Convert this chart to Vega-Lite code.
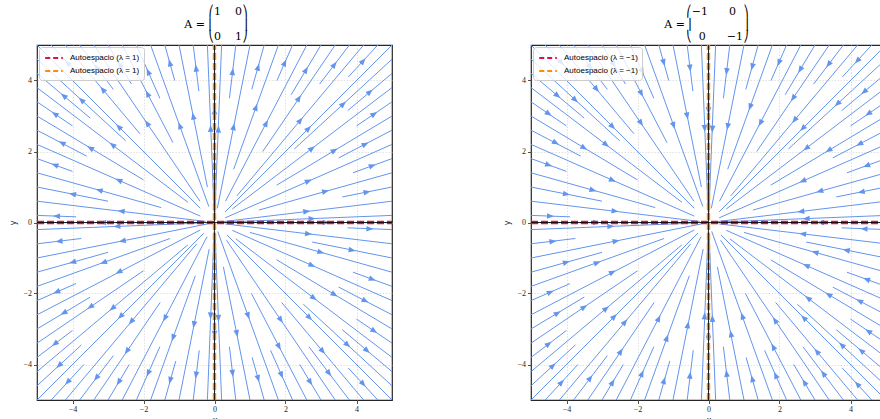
{
  "$schema": "https://vega.github.io/schema/vega-lite/v6.json",
  "padding": {"left": 9, "top": 5, "right": 0, "bottom": 0},
  "autosize": {"type": "pad"},
  "background": "white",
  "spacing": 139,
  "bounds": "flush",
  "resolve": {"scale": {"color": "independent", "angle": "independent"}, "legend": {"color": "independent"}},
  "config": {
    "view": {"stroke": "#262626", "strokeWidth": 1.2},
    "axis": {"grid": true, "gridColor": "#d4d4d4", "gridDash": [1.5, 1.5], "gridWidth": 0.7, "domain": false, "tickColor": "#262626", "tickSize": 3.5, "tickWidth": 0.8, "labelFont": "Liberation Serif", "labelFontSize": 8, "labelColor": "#262626", "labelPadding": 2, "titleFont": "DejaVu Sans", "titleFontSize": 8, "titleFontWeight": "normal", "titleColor": "#262626", "labelFlush": false},
    "axisY": {"titlePadding": 5},
    "axisX": {"titlePadding": 3},
    "legend": {"orient": "top-left", "offset": 2, "fillColor": "rgba(255,255,255,0.8)", "strokeColor": "#cccccc", "cornerRadius": 3, "padding": 4, "labelFont": "Liberation Sans", "labelFontSize": 8, "labelColor": "#000000", "symbolType": "M-1.6,0H1.6", "symbolSize": 121, "symbolOffset": 4, "labelOffset": 9, "symbolStrokeWidth": 2.2, "symbolDash": [5, 3], "rowPadding": 1},
    "title": {"font": "DejaVu Serif", "fontWeight": "normal", "color": "#000000", "fontSize": 11, "lineHeight": 12.5}
  },
  "datasets": {
    "lineas": [
      {"x":0.01,"y":0.25,"x2":0.2,"y2":5},{"x":0.42,"y":3.5,"x2":0.6,"y2":5},{"x":0.08,"y":0.4,"x2":1,"y2":5},{"x":1.05,"y":3.75,"x2":1.4,"y2":5},{"x":0.54,"y":1.5,"x2":1.8,"y2":5},{"x":1.76,"y":4,"x2":2.2,"y2":5},{"x":0.31,"y":0.6,"x2":2.6,"y2":5},{"x":2.16,"y":3.6,"x2":3,"y2":5},{"x":1.36,"y":2,"x2":3.4,"y2":5},{"x":2.96,"y":3.9,"x2":3.8,"y2":5},{"x":0.63,"y":0.75,"x2":4.2,"y2":5},{"x":3.77,"y":4.1,"x2":4.6,"y2":5},{"x":0.3,"y":0.3,"x2":5,"y2":5},
      {"x":0.5,"y":0.02,"x2":5,"y2":0.2},{"x":0.2,"y":0.02,"x2":5,"y2":0.6},{"x":3.6,"y":0.72,"x2":5,"y2":1},{"x":1.25,"y":0.35,"x2":5,"y2":1.4},{"x":3.9,"y":1.4,"x2":5,"y2":1.8},{"x":0.3,"y":0.13,"x2":5,"y2":2.2},{"x":3.5,"y":1.82,"x2":5,"y2":2.6},{"x":1.75,"y":1.05,"x2":5,"y2":3},{"x":4,"y":2.72,"x2":5,"y2":3.4},{"x":0.5,"y":0.38,"x2":5,"y2":3.8},{"x":3.75,"y":3.15,"x2":5,"y2":4.2},{"x":2.25,"y":2.07,"x2":5,"y2":4.6},
      {"x":-0.01,"y":0.3,"x2":-0.2,"y2":5},{"x":-0.44,"y":3.7,"x2":-0.6,"y2":5},{"x":-0.2,"y":1,"x2":-1,"y2":5},{"x":-1.12,"y":4,"x2":-1.4,"y2":5},{"x":-0.16,"y":0.45,"x2":-1.8,"y2":5},{"x":-1.54,"y":3.5,"x2":-2.2,"y2":5},{"x":-1.17,"y":2.25,"x2":-2.6,"y2":5},{"x":-2.34,"y":3.9,"x2":-3,"y2":5},{"x":-0.41,"y":0.6,"x2":-3.4,"y2":5},{"x":-2.85,"y":3.75,"x2":-3.8,"y2":5},{"x":-2.1,"y":2.5,"x2":-4.2,"y2":5},{"x":-3.68,"y":4,"x2":-4.6,"y2":5},{"x":-0.4,"y":0.4,"x2":-5,"y2":5},
      {"x":-3.9,"y":0.16,"x2":-5,"y2":0.2},{"x":-0.25,"y":0.03,"x2":-5,"y2":0.6},{"x":-3,"y":0.6,"x2":-5,"y2":1},{"x":-1.5,"y":0.42,"x2":-5,"y2":1.4},{"x":-4,"y":1.44,"x2":-5,"y2":1.8},{"x":-0.4,"y":0.18,"x2":-5,"y2":2.2},{"x":-3.6,"y":1.87,"x2":-5,"y2":2.6},{"x":-2,"y":1.2,"x2":-5,"y2":3},{"x":-4,"y":2.72,"x2":-5,"y2":3.4},{"x":-0.75,"y":0.57,"x2":-5,"y2":3.8},{"x":-3.5,"y":2.94,"x2":-5,"y2":4.2},{"x":-2.5,"y":2.3,"x2":-5,"y2":4.6},
      {"x":0.02,"y":-0.4,"x2":0.2,"y2":-5},{"x":0.42,"y":-3.5,"x2":0.6,"y2":-5},{"x":0.25,"y":-1.25,"x2":1,"y2":-5},{"x":1.06,"y":-3.8,"x2":1.4,"y2":-5},{"x":0.09,"y":-0.25,"x2":1.8,"y2":-5},{"x":1.58,"y":-3.6,"x2":2.2,"y2":-5},{"x":1.04,"y":-2,"x2":2.6,"y2":-5},{"x":2.4,"y":-4,"x2":3,"y2":-5},{"x":0.34,"y":-0.5,"x2":3.4,"y2":-5},{"x":2.66,"y":-3.5,"x2":3.8,"y2":-5},{"x":1.89,"y":-2.25,"x2":4.2,"y2":-5},{"x":3.77,"y":-4.1,"x2":4.6,"y2":-5},{"x":0.35,"y":-0.35,"x2":5,"y2":-5},
      {"x":3.75,"y":-0.15,"x2":5,"y2":-0.2},{"x":0.3,"y":-0.04,"x2":5,"y2":-0.6},{"x":2.75,"y":-0.55,"x2":5,"y2":-1},{"x":1,"y":-0.28,"x2":5,"y2":-1.4},{"x":3.9,"y":-1.4,"x2":5,"y2":-1.8},{"x":0.5,"y":-0.22,"x2":5,"y2":-2.2},{"x":3.5,"y":-1.82,"x2":5,"y2":-2.6},{"x":1.75,"y":-1.05,"x2":5,"y2":-3},{"x":4,"y":-2.72,"x2":5,"y2":-3.4},{"x":0.6,"y":-0.46,"x2":5,"y2":-3.8},{"x":3.6,"y":-3.02,"x2":5,"y2":-4.2},{"x":2.5,"y":-2.3,"x2":5,"y2":-4.6},
      {"x":-0.01,"y":-0.25,"x2":-0.2,"y2":-5},{"x":-0.43,"y":-3.6,"x2":-0.6,"y2":-5},{"x":-0.15,"y":-0.75,"x2":-1,"y2":-5},{"x":-1.09,"y":-3.9,"x2":-1.4,"y2":-5},{"x":-0.54,"y":-1.5,"x2":-1.8,"y2":-5},{"x":-1.54,"y":-3.5,"x2":-2.2,"y2":-5},{"x":-0.21,"y":-0.4,"x2":-2.6,"y2":-5},{"x":-2.4,"y":-4,"x2":-3,"y2":-5},{"x":-1.53,"y":-2.25,"x2":-3.4,"y2":-5},{"x":-2.85,"y":-3.75,"x2":-3.8,"y2":-5},{"x":-0.5,"y":-0.6,"x2":-4.2,"y2":-5},{"x":-3.68,"y":-4,"x2":-4.6,"y2":-5},{"x":-0.3,"y":-0.3,"x2":-5,"y2":-5},
      {"x":-0.5,"y":-0.02,"x2":-5,"y2":-0.2},{"x":-3.75,"y":-0.45,"x2":-5,"y2":-0.6},{"x":-0.2,"y":-0.04,"x2":-5,"y2":-1},{"x":-3,"y":-0.84,"x2":-5,"y2":-1.4},{"x":-1.25,"y":-0.45,"x2":-5,"y2":-1.8},{"x":-3.9,"y":-1.72,"x2":-5,"y2":-2.2},{"x":-0.4,"y":-0.21,"x2":-5,"y2":-2.6},{"x":-3.5,"y":-2.1,"x2":-5,"y2":-3},{"x":-2,"y":-1.36,"x2":-5,"y2":-3.4},{"x":-4,"y":-3.04,"x2":-5,"y2":-3.8},{"x":-0.75,"y":-0.63,"x2":-5,"y2":-4.2},{"x":-3.75,"y":-3.45,"x2":-5,"y2":-4.6},
      {"x":0,"y":0.3,"x2":0,"y2":5},{"x":0,"y":-0.3,"x2":0,"y2":-5},{"x":0.3,"y":0,"x2":5,"y2":0},{"x":-0.3,"y":0,"x2":-5,"y2":0}
    ],
    "flechas": [
      {"x":0.11,"y":2.63,"dir":2.3},{"x":0.51,"y":4.25,"dir":6.8},{"x":0.54,"y":2.7,"dir":11.3},{"x":1.23,"y":4.38,"dir":15.6},{"x":1.17,"y":3.25,"dir":19.8},{"x":1.98,"y":4.5,"dir":23.7},{"x":1.46,"y":2.8,"dir":27.5},{"x":2.58,"y":4.3,"dir":31},{"x":2.38,"y":3.5,"dir":34.2},{"x":3.38,"y":4.45,"dir":37.2},{"x":2.42,"y":2.88,"dir":40},{"x":4.19,"y":4.55,"dir":42.6},{"x":2.65,"y":2.65,"dir":45},
      {"x":2.75,"y":0.11,"dir":87.7},{"x":2.6,"y":0.31,"dir":83.2},{"x":4.3,"y":0.86,"dir":78.7},{"x":3.13,"y":0.88,"dir":74.4},{"x":4.45,"y":1.6,"dir":70.2},{"x":2.65,"y":1.17,"dir":66.3},{"x":4.25,"y":2.21,"dir":62.5},{"x":3.38,"y":2.03,"dir":59},{"x":4.5,"y":3.06,"dir":55.8},{"x":2.75,"y":2.09,"dir":52.8},{"x":4.38,"y":3.68,"dir":50},{"x":3.63,"y":3.34,"dir":47.4},
      {"x":-0.11,"y":2.65,"dir":357.7},{"x":-0.52,"y":4.35,"dir":353.2},{"x":-0.6,"y":3,"dir":348.7},{"x":-1.26,"y":4.5,"dir":344.4},{"x":-0.98,"y":2.73,"dir":340.2},{"x":-1.87,"y":4.25,"dir":336.3},{"x":-1.89,"y":3.63,"dir":332.5},{"x":-2.67,"y":4.45,"dir":329},{"x":-1.9,"y":2.8,"dir":325.8},{"x":-3.33,"y":4.38,"dir":322.8},{"x":-3.15,"y":3.75,"dir":320},{"x":-4.14,"y":4.5,"dir":317.4},{"x":-2.7,"y":2.7,"dir":315},
      {"x":-4.45,"y":0.18,"dir":272.3},{"x":-2.63,"y":0.32,"dir":276.8},{"x":-4,"y":0.8,"dir":281.3},{"x":-3.25,"y":0.91,"dir":285.6},{"x":-4.5,"y":1.62,"dir":289.8},{"x":-2.7,"y":1.19,"dir":293.8},{"x":-4.3,"y":2.24,"dir":297.5},{"x":-3.5,"y":2.1,"dir":301},{"x":-4.5,"y":3.06,"dir":304.2},{"x":-2.88,"y":2.19,"dir":307.2},{"x":-4.25,"y":3.57,"dir":310},{"x":-3.75,"y":3.45,"dir":312.6},
      {"x":0.11,"y":-2.7,"dir":177.7},{"x":0.51,"y":-4.25,"dir":173.2},{"x":0.63,"y":-3.13,"dir":168.7},{"x":1.23,"y":-4.4,"dir":164.4},{"x":0.95,"y":-2.63,"dir":160.2},{"x":1.89,"y":-4.3,"dir":156.3},{"x":1.82,"y":-3.5,"dir":152.5},{"x":2.7,"y":-4.5,"dir":149},{"x":1.87,"y":-2.75,"dir":145.8},{"x":3.23,"y":-4.25,"dir":142.8},{"x":3.05,"y":-3.63,"dir":140},{"x":4.19,"y":-4.55,"dir":137.4},{"x":2.68,"y":-2.68,"dir":135},
      {"x":4.38,"y":-0.18,"dir":92.3},{"x":2.65,"y":-0.32,"dir":96.8},{"x":3.88,"y":-0.78,"dir":101.3},{"x":3,"y":-0.84,"dir":105.6},{"x":4.45,"y":-1.6,"dir":109.8},{"x":2.75,"y":-1.21,"dir":113.8},{"x":4.25,"y":-2.21,"dir":117.5},{"x":3.38,"y":-2.03,"dir":121},{"x":4.5,"y":-3.06,"dir":124.2},{"x":2.8,"y":-2.13,"dir":127.2},{"x":4.3,"y":-3.61,"dir":130},{"x":3.75,"y":-3.45,"dir":132.6},
      {"x":-0.11,"y":-2.63,"dir":182.3},{"x":-0.52,"y":-4.3,"dir":186.8},{"x":-0.58,"y":-2.88,"dir":191.3},{"x":-1.25,"y":-4.45,"dir":195.6},{"x":-1.17,"y":-3.25,"dir":199.8},{"x":-1.87,"y":-4.25,"dir":203.8},{"x":-1.4,"y":-2.7,"dir":207.5},{"x":-2.7,"y":-4.5,"dir":211},{"x":-2.47,"y":-3.63,"dir":214.2},{"x":-3.33,"y":-4.38,"dir":217.2},{"x":-2.35,"y":-2.8,"dir":220},{"x":-4.14,"y":-4.5,"dir":222.6},{"x":-2.65,"y":-2.65,"dir":225},
      {"x":-2.75,"y":-0.11,"dir":267.7},{"x":-4.38,"y":-0.53,"dir":263.2},{"x":-2.6,"y":-0.52,"dir":258.7},{"x":-4,"y":-1.12,"dir":254.4},{"x":-3.13,"y":-1.13,"dir":250.2},{"x":-4.45,"y":-1.96,"dir":246.3},{"x":-2.7,"y":-1.4,"dir":242.5},{"x":-4.25,"y":-2.55,"dir":239},{"x":-3.5,"y":-2.38,"dir":235.8},{"x":-4.5,"y":-3.42,"dir":232.8},{"x":-2.88,"y":-2.42,"dir":230},{"x":-4.38,"y":-4.03,"dir":227.4},
      {"x":0,"y":3.15,"dir":0},{"x":0,"y":-3.15,"dir":180},{"x":3.15,"y":0,"dir":90},{"x":-3.15,"y":0,"dir":270}
    ],
    "autovectores": [
      {"vector":"v1","x":-5,"y":0,"x2":5,"y2":0},
      {"vector":"v2","x":0,"y":-5,"x2":0,"y2":5}
    ],
    "ejes": [
      {"x":-5,"y":0,"x2":5,"y2":0},
      {"x":0,"y":-5,"x2":0,"y2":5}
    ]
  },
  "hconcat": [
    {
      "width": 355, "height": 355,
      "title": {"text": ["⎛1\u2007\u20070⎞", "A = ⎜\u2007\u2007\u2007\u2007⎟", "⎝0\u2007\u20071⎠"], "align": "right", "anchor": "middle", "dx": 33, "offset": 1},
      "layer": [
        {"data": {"name": "lineas"}, "mark": {"type": "rule", "color": "#6495ed", "strokeWidth": 1},
         "encoding": {
           "x": {"field": "x", "type": "quantitative", "scale": {"domain": [-5, 5], "nice": false, "zero": false}, "axis": {"values": [-4, -2, 0, 2, 4], "title": "x"}},
           "y": {"field": "y", "type": "quantitative", "scale": {"domain": [-5, 5], "nice": false, "zero": false}, "axis": {"values": [-4, -2, 0, 2, 4], "title": "y"}},
           "x2": {"field": "x2"}, "y2": {"field": "y2"}}},
        {"data": {"name": "flechas"}, "mark": {"type": "point", "shape": "M0,-1L0.8,1L-0.8,1Z", "filled": true, "size": 50, "color": "#6495ed", "opacity": 1},
         "encoding": {
           "x": {"field": "x", "type": "quantitative"},
           "y": {"field": "y", "type": "quantitative"},
           "angle": {"field": "dir", "type": "quantitative", "scale": {"domain": [0, 360], "range": [0, 360]}}}},
        {"data": {"name": "autovectores"}, "mark": {"type": "rule", "strokeDash": [7, 3], "strokeWidth": 3.4},
         "encoding": {
           "x": {"field": "x", "type": "quantitative"}, "y": {"field": "y", "type": "quantitative"},
           "x2": {"field": "x2"}, "y2": {"field": "y2"},
           "color": {"field": "vector", "type": "nominal", "scale": {"domain": ["v1", "v2"], "range": ["#dc143c", "#ff8c00"]}, "legend": {"title": null, "labelExpr": "'Autoespacio (λ = 1)'"}}}},
        {"data": {"name": "ejes"}, "mark": {"type": "rule", "color": "#000000", "strokeWidth": 0.8},
         "encoding": {
           "x": {"field": "x", "type": "quantitative"}, "y": {"field": "y", "type": "quantitative"},
           "x2": {"field": "x2"}, "y2": {"field": "y2"}}}
      ]
    },
    {
      "width": 355, "height": 355,
      "title": {"text": ["⎛−1\u2007\u2007\u20070\u2007⎞", "A = ⎜\u2007\u2007\u2007\u2007\u2007\u2007\u2007⎟", "⎝\u20070\u2007\u2007\u2007−1⎠"], "align": "right", "anchor": "middle", "dx": 40, "offset": 1},
      "layer": [
        {"data": {"name": "lineas"}, "mark": {"type": "rule", "color": "#6495ed", "strokeWidth": 1},
         "encoding": {
           "x": {"field": "x", "type": "quantitative", "scale": {"domain": [-5, 5], "nice": false, "zero": false}, "axis": {"values": [-4, -2, 0, 2, 4], "title": "x"}},
           "y": {"field": "y", "type": "quantitative", "scale": {"domain": [-5, 5], "nice": false, "zero": false}, "axis": {"values": [-4, -2, 0, 2, 4], "title": "y"}},
           "x2": {"field": "x2"}, "y2": {"field": "y2"}}},
        {"data": {"name": "flechas"}, "mark": {"type": "point", "shape": "M0,-1L0.8,1L-0.8,1Z", "filled": true, "size": 50, "color": "#6495ed", "opacity": 1},
         "encoding": {
           "x": {"field": "x", "type": "quantitative"},
           "y": {"field": "y", "type": "quantitative"},
           "angle": {"field": "dir", "type": "quantitative", "scale": {"domain": [0, 360], "range": [180, 540]}}}},
        {"data": {"name": "autovectores"}, "mark": {"type": "rule", "strokeDash": [7, 3], "strokeWidth": 3.4},
         "encoding": {
           "x": {"field": "x", "type": "quantitative"}, "y": {"field": "y", "type": "quantitative"},
           "x2": {"field": "x2"}, "y2": {"field": "y2"},
           "color": {"field": "vector", "type": "nominal", "scale": {"domain": ["v1", "v2"], "range": ["#dc143c", "#ff8c00"]}, "legend": {"title": null, "labelExpr": "'Autoespacio (λ = −1)'"}}}},
        {"data": {"name": "ejes"}, "mark": {"type": "rule", "color": "#000000", "strokeWidth": 0.8},
         "encoding": {
           "x": {"field": "x", "type": "quantitative"}, "y": {"field": "y", "type": "quantitative"},
           "x2": {"field": "x2"}, "y2": {"field": "y2"}}}
      ]
    }
  ]
}
